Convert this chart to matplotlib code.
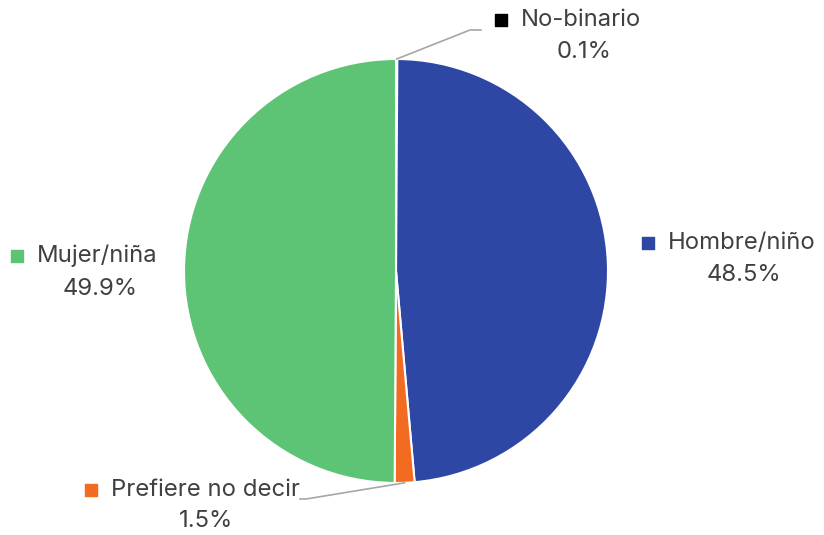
import numpy as np
import matplotlib.pyplot as plt

plt.rcParams['font.family'] = ['Inter', 'DejaVu Sans']

categories = ['No-binario', 'Hombre/niño', 'Prefiere no decir', 'Mujer/niña']
values = [0.1, 48.5, 1.5, 49.9]
colors = ['#000000', '#2E47A5', '#F26B21', '#5DC476']

W, H = 824, 535
fig = plt.figure(figsize=(W / 100, H / 100), dpi=100)
ax = fig.add_axes([0, 0, 1, 1])

cx, cy, r = 396, H - 271, 212
wedges, _ = ax.pie(values, colors=colors, startangle=90, counterclock=False,
                   center=(cx, cy), radius=r, frame=True,
                   wedgeprops=dict(edgecolor='white', linewidth=1.5))
ax.set_xlim(0, W)
ax.set_ylim(0, H)
ax.set_aspect('equal')
ax.axis('off')

txt = '#404040'
fs = 17.2
# label layout: (square x, line1 y, pct center x, pct y) in pixel coords from top
layout = {
    'No-binario': (501, 20, 584, 52),
    'Hombre/niño': (648, 243, 744, 275),
    'Prefiere no decir': (91, 490, 206, 521),
    'Mujer/niña': (17, 256, 100, 289),
}
for cat, val, col in zip(categories, values, colors):
    sx, ly, px, py = layout[cat]
    ax.scatter([sx], [H - ly], marker='s', s=70, color=col, zorder=5)
    ax.text(sx + 20, H - ly, cat, fontsize=fs, color=txt, va='center', ha='left')
    ax.text(px, H - py, f'{val:.1f}%', fontsize=fs, color=txt, va='center', ha='center')

# leader lines
def edge_point(i):
    start = 90 - sum(values[:i]) / sum(values) * 360
    mid = start - values[i] / sum(values) * 360 / 2
    a = np.deg2rad(mid)
    return cx + r * np.cos(a), cy + r * np.sin(a)

ex, ey = edge_point(0)
ax.plot([ex, 470, 481], [ey, H - 30, H - 30], color='#A6A6A6', lw=1.2, zorder=4)
ex, ey = edge_point(2)
ax.plot([ex, 306, 300], [ey, H - 499, H - 499], color='#A6A6A6', lw=1.2, zorder=4)

fig.savefig('out.png', dpi=100)
